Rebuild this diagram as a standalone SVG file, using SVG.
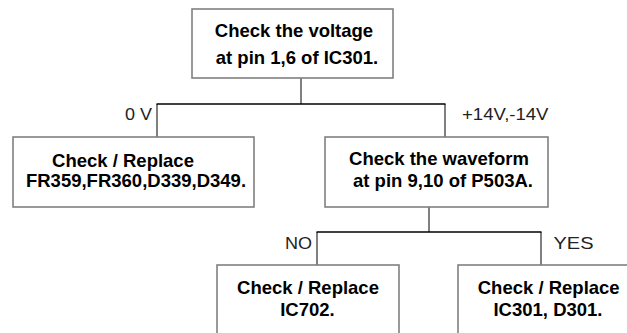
<svg xmlns="http://www.w3.org/2000/svg" width="627" height="333" viewBox="0 0 627 333">
<style>
.box{fill:#fff;stroke:#808080;stroke-width:1.6}
.t{font-family:"Liberation Sans",Arial,sans-serif;font-weight:bold;font-size:18.5px;fill:#000;text-anchor:middle}
.lbl{font-family:"Liberation Sans",Arial,sans-serif;font-size:16.5px;fill:#222}
.h{stroke:#000;stroke-width:1.5;fill:none}
.v{stroke:#808080;stroke-width:2;fill:none}
</style>
<rect width="627" height="333" fill="#fff"/>
<g id="connectors">
<line class="v" x1="301" y1="78" x2="301" y2="104"/>
<line class="v" x1="157" y1="104" x2="157" y2="137"/>
<line class="v" x1="445" y1="104" x2="445" y2="137"/>
<line class="h" x1="156.5" y1="104" x2="445.5" y2="104"/>
<line class="v" x1="429" y1="207" x2="429" y2="232"/>
<line class="v" x1="317" y1="232" x2="317" y2="265"/>
<line class="v" x1="541" y1="232" x2="541" y2="265"/>
<line class="h" x1="316.5" y1="232" x2="541.5" y2="232"/>
<text class="lbl" x="125" y="119.5" textLength="27" lengthAdjust="spacingAndGlyphs">0 V</text>
<text class="lbl" x="462" y="119.5" textLength="86.5" lengthAdjust="spacingAndGlyphs">+14V,-14V</text>
<text class="lbl" x="285" y="248.5" textLength="27" lengthAdjust="spacingAndGlyphs">NO</text>
<text class="lbl" x="553.5" y="248.5" textLength="40" lengthAdjust="spacingAndGlyphs">YES</text>
</g>
<g id="n1">
<rect class="box" x="192" y="9" width="201" height="69"/>
<text class="t" x="294" y="36.5">Check the voltage</text>
<text class="t" x="297" y="64">at pin 1,6 of IC301.</text>
</g>
<g id="n2">
<rect class="box" x="13" y="137" width="241" height="70"/>
<text class="t" x="123" y="166.5">Check / Replace</text>
<text class="t" x="136" y="186.5">FR359,FR360,D339,D349.</text>
</g>
<g id="n3">
<rect class="box" x="325" y="137" width="223" height="70"/>
<text class="t" x="439" y="165">Check the waveform</text>
<text class="t" x="443" y="187">at pin 9,10 of P503A.</text>
</g>
<g id="n4">
<rect class="box" x="217" y="265" width="182" height="90"/>
<text class="t" x="308" y="293.5">Check / Replace</text>
<text class="t" x="307.5" y="316">IC702.</text>
</g>
<g id="n5">
<rect class="box" x="458" y="265" width="190" height="90"/>
<text class="t" x="548.7" y="293.5">Check / Replace</text>
<text class="t" x="548" y="316">IC301, D301.</text>
</g>
</svg>
